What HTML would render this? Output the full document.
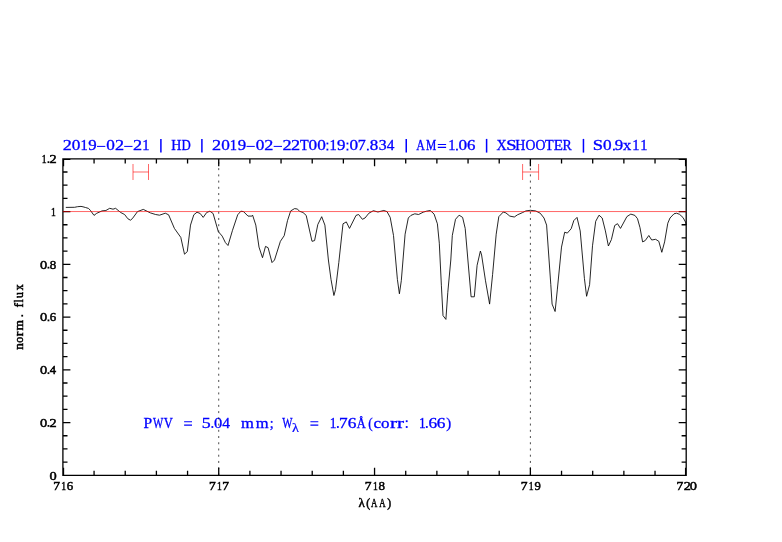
<!DOCTYPE html>
<html><head><meta charset="utf-8"><style>
html,body{margin:0;padding:0;background:#fff;width:782px;height:542px;overflow:hidden}
svg{display:block;will-change:transform}
</style></head><body>
<svg width="782" height="542" viewBox="0 0 782 542">
<rect width="782" height="542" fill="#fff"/>
<g font-family="Liberation Serif">
<text transform="translate(62.65 150.3) scale(1.339 1.000)" font-size="13.6" fill="#0000ff" stroke="#0000ff" stroke-width="0.3">2</text>
<text transform="translate(71.84 150.3) scale(1.266 1.000)" font-size="13.6" fill="#0000ff" stroke="#0000ff" stroke-width="0.3">0</text>
<text transform="translate(80.58 150.3) scale(1.065 1.000)" font-size="13.6" fill="#0000ff" stroke="#0000ff" stroke-width="0.3">1</text>
<text transform="translate(88.31 150.3) scale(1.241 1.000)" font-size="13.6" fill="#0000ff" stroke="#0000ff" stroke-width="0.3">9</text>
<path d="M97 146.4h8.3" stroke="#0000ff" stroke-width="1.0"/>
<text transform="translate(106.24 150.3) scale(1.266 1.000)" font-size="13.6" fill="#0000ff" stroke="#0000ff" stroke-width="0.3">0</text>
<text transform="translate(114.9 150.3) scale(1.339 1.000)" font-size="13.6" fill="#0000ff" stroke="#0000ff" stroke-width="0.3">2</text>
<path d="M124.2 146.4h8.3" stroke="#0000ff" stroke-width="1.0"/>
<text transform="translate(133 150.3) scale(1.339 1.000)" font-size="13.6" fill="#0000ff" stroke="#0000ff" stroke-width="0.3">2</text>
<text transform="translate(142.18 150.3) scale(1.065 1.000)" font-size="13.6" fill="#0000ff" stroke="#0000ff" stroke-width="0.3">1</text>
<path d="M160.9 138.9V152.6" stroke="#0000ff" stroke-width="1.5"/>
<text transform="translate(171.25 150.3) scale(1.030 1.070)" font-size="13.6" fill="#0000ff" stroke="#0000ff" stroke-width="0.3">H</text>
<text transform="translate(181.48 150.3) scale(0.945 1.070)" font-size="13.6" fill="#0000ff" stroke="#0000ff" stroke-width="0.3">D</text>
<path d="M201.9 138.9V152.6" stroke="#0000ff" stroke-width="1.5"/>
<text transform="translate(212.1 150.3) scale(1.339 1.000)" font-size="13.6" fill="#0000ff" stroke="#0000ff" stroke-width="0.3">2</text>
<text transform="translate(221.24 150.3) scale(1.266 1.000)" font-size="13.6" fill="#0000ff" stroke="#0000ff" stroke-width="0.3">0</text>
<text transform="translate(229.78 150.3) scale(1.065 1.000)" font-size="13.6" fill="#0000ff" stroke="#0000ff" stroke-width="0.3">1</text>
<text transform="translate(237.66 150.3) scale(1.241 1.000)" font-size="13.6" fill="#0000ff" stroke="#0000ff" stroke-width="0.3">9</text>
<path d="M246.5 146.4h8.3" stroke="#0000ff" stroke-width="1.0"/>
<text transform="translate(255.69 150.3) scale(1.266 1.000)" font-size="13.6" fill="#0000ff" stroke="#0000ff" stroke-width="0.3">0</text>
<text transform="translate(264.3 150.3) scale(1.339 1.000)" font-size="13.6" fill="#0000ff" stroke="#0000ff" stroke-width="0.3">2</text>
<path d="M273.7 146.4h8.3" stroke="#0000ff" stroke-width="1.0"/>
<text transform="translate(282.6 150.3) scale(1.339 1.000)" font-size="13.6" fill="#0000ff" stroke="#0000ff" stroke-width="0.3">2</text>
<text transform="translate(291.1 150.3) scale(1.339 1.000)" font-size="13.6" fill="#0000ff" stroke="#0000ff" stroke-width="0.3">2</text>
<text transform="translate(299.99 150.3) scale(1.046 1.070)" font-size="13.6" fill="#0000ff" stroke="#0000ff" stroke-width="0.3">T</text>
<text transform="translate(308.54 150.3) scale(1.266 1.000)" font-size="13.6" fill="#0000ff" stroke="#0000ff" stroke-width="0.3">0</text>
<text transform="translate(317.24 150.3) scale(1.266 1.000)" font-size="13.6" fill="#0000ff" stroke="#0000ff" stroke-width="0.3">0</text>
<rect x="326.5" y="148.7" width="1.8" height="1.8" fill="#0000ff"/><rect x="326.5" y="142.6" width="1.8" height="1.8" fill="#0000ff"/>
<text transform="translate(329.58 150.3) scale(1.065 1.000)" font-size="13.6" fill="#0000ff" stroke="#0000ff" stroke-width="0.3">1</text>
<text transform="translate(337.06 150.3) scale(1.241 1.000)" font-size="13.6" fill="#0000ff" stroke="#0000ff" stroke-width="0.3">9</text>
<rect x="346.55" y="148.7" width="1.8" height="1.8" fill="#0000ff"/><rect x="346.55" y="142.6" width="1.8" height="1.8" fill="#0000ff"/>
<text transform="translate(349.39 150.3) scale(1.266 1.000)" font-size="13.6" fill="#0000ff" stroke="#0000ff" stroke-width="0.3">0</text>
<text transform="translate(357.69 150.3) scale(1.179 1.000)" font-size="13.6" fill="#0000ff" stroke="#0000ff" stroke-width="0.3">7</text>
<rect x="366.95" y="148.7" width="1.8" height="1.8" fill="#0000ff"/>
<text transform="translate(369.8 150.3) scale(1.249 1.000)" font-size="13.6" fill="#0000ff" stroke="#0000ff" stroke-width="0.3">8</text>
<text transform="translate(378.8 150.3) scale(1.157 1.000)" font-size="13.6" fill="#0000ff" stroke="#0000ff" stroke-width="0.3">3</text>
<text transform="translate(386.85 150.3) scale(1.123 1.000)" font-size="13.6" fill="#0000ff" stroke="#0000ff" stroke-width="0.3">4</text>
<path d="M406.25 138.9V152.6" stroke="#0000ff" stroke-width="1.5"/>
<text transform="translate(416.23 150.3) scale(0.876 1.070)" font-size="13.6" fill="#0000ff" stroke="#0000ff" stroke-width="0.3">A</text>
<text transform="translate(426.02 150.3) scale(0.849 1.070)" font-size="13.6" fill="#0000ff" stroke="#0000ff" stroke-width="0.3">M</text>
<path d="M437.8 144.5h8.3M437.8 147.45h8.3" stroke="#0000ff" stroke-width="1.2"/>
<text transform="translate(448.33 150.3) scale(1.065 1.000)" font-size="13.6" fill="#0000ff" stroke="#0000ff" stroke-width="0.3">1</text>
<rect x="456.05" y="148.7" width="1.8" height="1.8" fill="#0000ff"/>
<text transform="translate(458.59 150.3) scale(1.266 1.000)" font-size="13.6" fill="#0000ff" stroke="#0000ff" stroke-width="0.3">0</text>
<text transform="translate(466.93 150.3) scale(1.239 1.000)" font-size="13.6" fill="#0000ff" stroke="#0000ff" stroke-width="0.3">6</text>
<path d="M486.6 138.9V152.6" stroke="#0000ff" stroke-width="1.5"/>
<text transform="translate(496.44 150.3) scale(1.035 1.070)" font-size="13.6" fill="#0000ff" stroke="#0000ff" stroke-width="0.3">X</text>
<text transform="translate(506.36 150.3) scale(1.360 1.070)" font-size="13.6" fill="#0000ff" stroke="#0000ff" stroke-width="0.3">S</text>
<text transform="translate(515.15 150.3) scale(1.030 1.070)" font-size="13.6" fill="#0000ff" stroke="#0000ff" stroke-width="0.3">H</text>
<text transform="translate(525.39 150.3) scale(1.011 1.070)" font-size="13.6" fill="#0000ff" stroke="#0000ff" stroke-width="0.3">O</text>
<text transform="translate(535.39 150.3) scale(1.011 1.070)" font-size="13.6" fill="#0000ff" stroke="#0000ff" stroke-width="0.3">O</text>
<text transform="translate(545.09 150.3) scale(1.046 1.070)" font-size="13.6" fill="#0000ff" stroke="#0000ff" stroke-width="0.3">T</text>
<text transform="translate(553.82 150.3) scale(1.105 1.070)" font-size="13.6" fill="#0000ff" stroke="#0000ff" stroke-width="0.3">E</text>
<text transform="translate(562.55 150.3) scale(1.016 1.070)" font-size="13.6" fill="#0000ff" stroke="#0000ff" stroke-width="0.3">R</text>
<path d="M583.45 138.9V152.6" stroke="#0000ff" stroke-width="1.5"/>
<text transform="translate(592.81 150.3) scale(1.360 1.070)" font-size="13.6" fill="#0000ff" stroke="#0000ff" stroke-width="0.3">S</text>
<text transform="translate(602.89 150.3) scale(1.266 1.000)" font-size="13.6" fill="#0000ff" stroke="#0000ff" stroke-width="0.3">0</text>
<rect x="613" y="148.7" width="1.8" height="1.8" fill="#0000ff"/>
<text transform="translate(614.86 150.3) scale(1.241 1.000)" font-size="13.6" fill="#0000ff" stroke="#0000ff" stroke-width="0.3">9</text>
<text transform="translate(623.11 150.3) scale(1.213 1.000)" font-size="13.6" fill="#0000ff" stroke="#0000ff" stroke-width="0.3">x</text>
<text transform="translate(632.28 150.3) scale(1.065 1.000)" font-size="13.6" fill="#0000ff" stroke="#0000ff" stroke-width="0.3">1</text>
<text transform="translate(640.23 150.3) scale(1.065 1.000)" font-size="13.6" fill="#0000ff" stroke="#0000ff" stroke-width="0.3">1</text>
<text transform="translate(143.4 428) scale(1.114 1.070)" font-size="14.0" fill="#0000ff" stroke="#0000ff" stroke-width="0.3">P</text>
<text transform="translate(152.99 428) scale(0.774 1.070)" font-size="14.0" fill="#0000ff" stroke="#0000ff" stroke-width="0.3">W</text>
<text transform="translate(163.71 428) scale(0.898 1.070)" font-size="14.0" fill="#0000ff" stroke="#0000ff" stroke-width="0.3">V</text>
<path d="M184.1 421.75h7.9M184.1 425.1h7.9" stroke="#0000ff" stroke-width="1.2"/>
<text transform="translate(201.71 428) scale(1.277 1.000)" font-size="14.0" fill="#0000ff" stroke="#0000ff" stroke-width="0.3">5</text>
<rect x="211.45" y="426.1" width="1.8" height="1.8" fill="#0000ff"/>
<text transform="translate(214.02 428) scale(1.180 1.000)" font-size="14.0" fill="#0000ff" stroke="#0000ff" stroke-width="0.3">0</text>
<text transform="translate(222.35 428) scale(1.106 1.000)" font-size="14.0" fill="#0000ff" stroke="#0000ff" stroke-width="0.3">4</text>
<text transform="translate(241 428) scale(1.185 1.000)" font-size="14.0" fill="#0000ff" stroke="#0000ff" stroke-width="0.3">m</text>
<text transform="translate(255.8 428) scale(1.185 1.000)" font-size="14.0" fill="#0000ff" stroke="#0000ff" stroke-width="0.3">m</text>
<text transform="translate(269.83 428) scale(1.000 1.000)" font-size="14.0" fill="#0000ff" stroke="#0000ff" stroke-width="0.3">;</text>
<text transform="translate(282.34 428) scale(0.774 1.070)" font-size="14.0" fill="#0000ff" stroke="#0000ff" stroke-width="0.3">W</text>
<path d="M310.4 421.75h7.9M310.4 425.1h7.9" stroke="#0000ff" stroke-width="1.2"/>
<text transform="translate(329.68 428) scale(0.954 1.000)" font-size="14.0" fill="#0000ff" stroke="#0000ff" stroke-width="0.3">1</text>
<rect x="336.95" y="426.1" width="1.8" height="1.8" fill="#0000ff"/>
<text transform="translate(339.01 428) scale(1.234 1.000)" font-size="14.0" fill="#0000ff" stroke="#0000ff" stroke-width="0.3">7</text>
<text transform="translate(347.71 428) scale(1.237 1.000)" font-size="14.0" fill="#0000ff" stroke="#0000ff" stroke-width="0.3">6</text>
<text transform="translate(356.73 428) scale(0.891 1.070)" font-size="14.0" fill="#0000ff" stroke="#0000ff" stroke-width="0.3">Å</text>
<text transform="translate(368.27 428) scale(0.946 1.000)" font-size="14.0" fill="#0000ff" stroke="#0000ff" stroke-width="0.3">(</text>
<text transform="translate(373.6 428) scale(1.219 1.000)" font-size="14.0" fill="#0000ff" stroke="#0000ff" stroke-width="0.3">c</text>
<text transform="translate(381.1 428) scale(1.213 1.000)" font-size="14.0" fill="#0000ff" stroke="#0000ff" stroke-width="0.3">o</text>
<text transform="translate(390.03 428) scale(1.503 1.000)" font-size="14.0" fill="#0000ff" stroke="#0000ff" stroke-width="0.3">r</text>
<text transform="translate(397.08 428) scale(1.503 1.000)" font-size="14.0" fill="#0000ff" stroke="#0000ff" stroke-width="0.3">r</text>
<rect x="405.8" y="426.1" width="1.8" height="1.8" fill="#0000ff"/><rect x="405.8" y="420.3" width="1.8" height="1.8" fill="#0000ff"/>
<text transform="translate(418.93 428) scale(0.954 1.000)" font-size="14.0" fill="#0000ff" stroke="#0000ff" stroke-width="0.3">1</text>
<rect x="425.9" y="426.1" width="1.8" height="1.8" fill="#0000ff"/>
<text transform="translate(428.41 428) scale(1.237 1.000)" font-size="14.0" fill="#0000ff" stroke="#0000ff" stroke-width="0.3">6</text>
<text transform="translate(436.71 428) scale(1.237 1.000)" font-size="14.0" fill="#0000ff" stroke="#0000ff" stroke-width="0.3">6</text>
<text transform="translate(446.27 428) scale(1.057 1.000)" font-size="14.0" fill="#0000ff" stroke="#0000ff" stroke-width="0.3">)</text>
<text transform="translate(292.12 431.6) scale(1.121 1.000)" font-size="12.8" fill="#0000ff" stroke="#0000ff" stroke-width="0.2">λ</text>
</g>
<g font-family="Liberation Serif">
<text transform="translate(49.5 479.55) scale(1.142 1.000)" font-size="12.6" fill="#000" stroke="#000" stroke-width="0.5">0</text>
<text transform="translate(39.9 426.8) scale(1.142 1.000)" font-size="12.6" fill="#000" stroke="#000" stroke-width="0.5">0</text>
<rect x="47.55" y="425" width="1.8" height="1.8" fill="#000"/>
<text transform="translate(49.53 426.8) scale(1.128 1.000)" font-size="12.6" fill="#000" stroke="#000" stroke-width="0.5">2</text>
<text transform="translate(39.9 374.05) scale(1.142 1.000)" font-size="12.6" fill="#000" stroke="#000" stroke-width="0.5">0</text>
<rect x="47.55" y="372.25" width="1.8" height="1.8" fill="#000"/>
<text transform="translate(49.8 374.05) scale(1.007 1.000)" font-size="12.6" fill="#000" stroke="#000" stroke-width="0.5">4</text>
<text transform="translate(39.9 321.3) scale(1.142 1.000)" font-size="12.6" fill="#000" stroke="#000" stroke-width="0.5">0</text>
<rect x="47.55" y="319.5" width="1.8" height="1.8" fill="#000"/>
<text transform="translate(49.7 321.3) scale(1.022 1.000)" font-size="12.6" fill="#000" stroke="#000" stroke-width="0.5">6</text>
<text transform="translate(39.9 268.55) scale(1.142 1.000)" font-size="12.6" fill="#000" stroke="#000" stroke-width="0.5">0</text>
<rect x="47.55" y="266.75" width="1.8" height="1.8" fill="#000"/>
<text transform="translate(49.76 268.55) scale(1.030 1.000)" font-size="12.6" fill="#000" stroke="#000" stroke-width="0.5">8</text>
<text transform="translate(51.05 215.8) scale(0.766 1.000)" font-size="12.6" fill="#000" stroke="#000" stroke-width="0.5">1</text>
<text transform="translate(41.65 163.05) scale(0.766 1.000)" font-size="12.6" fill="#000" stroke="#000" stroke-width="0.5">1</text>
<rect x="47.55" y="161.25" width="1.8" height="1.8" fill="#000"/>
<text transform="translate(49.53 163.05) scale(1.128 1.000)" font-size="12.6" fill="#000" stroke="#000" stroke-width="0.5">2</text>
<text transform="translate(53.16 490.3) scale(1.077 1.000)" font-size="12.6" fill="#000" stroke="#000" stroke-width="0.5">7</text>
<text transform="translate(61.25 490.3) scale(0.766 1.000)" font-size="12.6" fill="#000" stroke="#000" stroke-width="0.5">1</text>
<text transform="translate(66.7 490.3) scale(1.022 1.000)" font-size="12.6" fill="#000" stroke="#000" stroke-width="0.5">6</text>
<text transform="translate(208.98 490.3) scale(1.077 1.000)" font-size="12.6" fill="#000" stroke="#000" stroke-width="0.5">7</text>
<text transform="translate(217.08 490.3) scale(0.766 1.000)" font-size="12.6" fill="#000" stroke="#000" stroke-width="0.5">1</text>
<text transform="translate(222.18 490.3) scale(1.077 1.000)" font-size="12.6" fill="#000" stroke="#000" stroke-width="0.5">7</text>
<text transform="translate(364.81 490.3) scale(1.077 1.000)" font-size="12.6" fill="#000" stroke="#000" stroke-width="0.5">7</text>
<text transform="translate(372.9 490.3) scale(0.766 1.000)" font-size="12.6" fill="#000" stroke="#000" stroke-width="0.5">1</text>
<text transform="translate(378.41 490.3) scale(1.030 1.000)" font-size="12.6" fill="#000" stroke="#000" stroke-width="0.5">8</text>
<text transform="translate(520.63 490.3) scale(1.077 1.000)" font-size="12.6" fill="#000" stroke="#000" stroke-width="0.5">7</text>
<text transform="translate(528.73 490.3) scale(0.766 1.000)" font-size="12.6" fill="#000" stroke="#000" stroke-width="0.5">1</text>
<text transform="translate(534.38 490.3) scale(1.000 1.000)" font-size="12.6" fill="#000" stroke="#000" stroke-width="0.5">9</text>
<text transform="translate(676.46 490.3) scale(1.077 1.000)" font-size="12.6" fill="#000" stroke="#000" stroke-width="0.5">7</text>
<text transform="translate(683.63 490.3) scale(1.128 1.000)" font-size="12.6" fill="#000" stroke="#000" stroke-width="0.5">2</text>
<text transform="translate(689.7 490.3) scale(1.142 1.000)" font-size="12.6" fill="#000" stroke="#000" stroke-width="0.5">0</text>
<text transform="translate(358.51 506.9) scale(1.033 1.000)" font-size="12.6" fill="#000" stroke="#000" stroke-width="0.5">λ</text>
<text transform="translate(366.34 506.9) scale(0.927 1.000)" font-size="12.6" fill="#000" stroke="#000" stroke-width="0.5">(</text>
<text transform="translate(371.06 506.9) scale(0.698 1.000)" font-size="12.6" fill="#000" stroke="#000" stroke-width="0.5">A</text>
<text transform="translate(379.16 506.9) scale(0.698 1.000)" font-size="12.6" fill="#000" stroke="#000" stroke-width="0.5">A</text>
<text transform="translate(387.17 506.9) scale(0.927 1.000)" font-size="12.6" fill="#000" stroke="#000" stroke-width="0.5">)</text>
<g transform="translate(23.1 0) rotate(-90)">
<text transform="translate(-349.65 0) scale(1.048 1.000)" font-size="12.6" fill="#000" stroke="#000" stroke-width="0.5">n</text>
<text transform="translate(-342.71 0) scale(0.955 1.000)" font-size="12.6" fill="#000" stroke="#000" stroke-width="0.5">o</text>
<text transform="translate(-336.23 0) scale(1.122 1.000)" font-size="12.6" fill="#000" stroke="#000" stroke-width="0.5">r</text>
<text transform="translate(-330.53 0) scale(1.060 1.000)" font-size="12.6" fill="#000" stroke="#000" stroke-width="0.5">m</text>
<rect x="-316.6" y="-1.8" width="1.8" height="1.8" fill="#000"/>
<text transform="translate(-307.41 0) scale(1.050 1.000)" font-size="12.6" fill="#000" stroke="#000" stroke-width="0.5">f</text>
<text transform="translate(-302.48 0) scale(0.901 1.000)" font-size="12.6" fill="#000" stroke="#000" stroke-width="0.5">l</text>
<text transform="translate(-297.9 0) scale(0.929 1.000)" font-size="12.6" fill="#000" stroke="#000" stroke-width="0.5">u</text>
<text transform="translate(-290.35 0) scale(0.944 1.000)" font-size="12.6" fill="#000" stroke="#000" stroke-width="0.5">x</text>
</g>
</g>
<path d="M62.9 158.8H686.2V475.3H62.9ZM63.5 475.3v-7.5M63.5 158.8v7.5M94.07 475.3v-4.6M94.07 158.8v4.6M125.23 475.3v-4.6M125.23 158.8v4.6M156.4 475.3v-4.6M156.4 158.8v4.6M187.56 475.3v-4.6M187.56 158.8v4.6M218.73 475.3v-7.5M218.73 158.8v7.5M249.89 475.3v-4.6M249.89 158.8v4.6M281.05 475.3v-4.6M281.05 158.8v4.6M312.22 475.3v-4.6M312.22 158.8v4.6M343.38 475.3v-4.6M343.38 158.8v4.6M374.55 475.3v-7.5M374.55 158.8v7.5M405.72 475.3v-4.6M405.72 158.8v4.6M436.88 475.3v-4.6M436.88 158.8v4.6M468.05 475.3v-4.6M468.05 158.8v4.6M499.21 475.3v-4.6M499.21 158.8v4.6M530.38 475.3v-7.5M530.38 158.8v7.5M561.54 475.3v-4.6M561.54 158.8v4.6M592.7 475.3v-4.6M592.7 158.8v4.6M623.87 475.3v-4.6M623.87 158.8v4.6M655.03 475.3v-4.6M655.03 158.8v4.6M685.6 475.3v-7.5M685.6 158.8v7.5M62.9 475.3h7.5M686.2 475.3h-7.5M62.9 462.11h4.6M686.2 462.11h-4.6M62.9 448.93h4.6M686.2 448.93h-4.6M62.9 435.74h4.6M686.2 435.74h-4.6M62.9 422.55h7.5M686.2 422.55h-7.5M62.9 409.36h4.6M686.2 409.36h-4.6M62.9 396.18h4.6M686.2 396.18h-4.6M62.9 382.99h4.6M686.2 382.99h-4.6M62.9 369.8h7.5M686.2 369.8h-7.5M62.9 356.61h4.6M686.2 356.61h-4.6M62.9 343.43h4.6M686.2 343.43h-4.6M62.9 330.24h4.6M686.2 330.24h-4.6M62.9 317.05h7.5M686.2 317.05h-7.5M62.9 303.86h4.6M686.2 303.86h-4.6M62.9 290.67h4.6M686.2 290.67h-4.6M62.9 277.49h4.6M686.2 277.49h-4.6M62.9 264.3h7.5M686.2 264.3h-7.5M62.9 251.11h4.6M686.2 251.11h-4.6M62.9 237.92h4.6M686.2 237.92h-4.6M62.9 224.74h4.6M686.2 224.74h-4.6M62.9 211.55h7.5M686.2 211.55h-7.5M62.9 198.36h4.6M686.2 198.36h-4.6M62.9 185.17h4.6M686.2 185.17h-4.6M62.9 171.99h4.6M686.2 171.99h-4.6M62.9 159.4h7.5M686.2 159.4h-7.5" stroke="#000" stroke-width="1.3" fill="none"/>
<polyline fill="none" stroke="#000" stroke-width="0.85" stroke-linejoin="round" points="65.8,207.4 74.6,207.3 77.5,206.7 81,206.4 83,206.8 85.5,207.5 88.5,208.4 90.5,210.5 94,215.4 96.7,213.3 102,210.9 105.9,210.5 109.7,208.3 113,209.2 115.6,208.3 120.7,212.5 124.6,214.5 127.8,218.7 130.4,220.2 132.3,218.7 137.5,211.6 143.3,209.4 150.4,212.9 155.6,214.5 159.5,215.2 165.3,213.2 168.6,214.8 174.4,228.4 180.8,237.4 184.5,254.2 187.3,251.6 190.5,225.1 193.8,214.8 197,212.2 200.2,213.5 203.2,217.4 206.7,212.5 209.9,211.2 213.1,213.5 218.3,231.6 222.2,236.1 225.4,242.6 228,245.5 232.5,230.3 237.7,214.8 240.9,211.2 243.5,211.6 248,216.1 251.9,216.1 252.6,215.2 255.8,225.1 259,247.1 262.5,257.7 265.5,246.4 268.1,247.7 272,262.6 274.5,260 280.4,241.3 284.2,235.7 287.5,220.6 290.7,210.9 294.6,208.6 297.2,209 299.7,211.3 303,212.5 306.2,215.4 312,241.3 314.6,240.6 317.8,224.5 321.7,216.7 324.9,225.1 328.4,260 331,279.4 333.9,295.5 335.5,289.7 338.8,262.6 343,223.8 346.3,221.9 349.5,228.4 356,215.4 358.6,214.5 362.4,219.3 365,218 368.9,213.2 373.4,210.7 377.9,212 383.8,210.5 387,211.6 390.2,217.4 393.5,235.5 397.4,279.4 399.4,293.8 401.3,280.7 405.1,234.2 408.3,218 410.9,215.4 414.8,213.8 418.6,214.5 423.2,212.2 426.4,211.2 430.3,210.5 434.1,214.1 437.4,223.8 439.3,243.2 441.4,285.8 443,315.6 445.9,319.4 447.8,292.3 450.8,260 452.3,235.5 455.5,219.3 459.1,215.2 462.6,217.4 465.2,228.4 467.9,260 471.1,296.8 474.3,296.8 477.1,265.3 480.4,251 481.6,255 485.5,280.8 489.6,304.1 492.6,274.4 496.2,234.2 498.8,216.7 503.3,212 505.9,212.9 509.8,216.1 514.3,217 517.5,214.8 522.7,212.5 525.9,210.9 530.4,210.3 535.6,210.9 540.2,213.2 544,218 546.6,225.1 550.8,284.7 552.1,304.1 555.1,311.5 557.3,289.9 561.5,247.1 564.7,232.2 567.3,233.1 571.2,228.7 573.8,220.6 577,217.4 580.2,230.9 584.4,278.3 586.6,296.3 589.6,284.7 592.5,245.8 595.7,221.3 599,215.2 602.2,218 605.4,230.9 608.4,246 611.4,239.6 614.7,225.5 617.5,223.7 620.5,228.4 626.9,216.6 630.8,214.1 634.9,215.4 637.5,218.7 640,227.7 642.6,241.9 645.2,240.6 648.8,235.5 651.7,240 655.6,239.3 658.8,241.3 661.8,252.3 664.6,241.9 667.8,223.2 670,218 674,213.8 676.5,213.2 679.5,214.3 683,217.5 685.5,222 686.2,225"/>
<line x1="62.9" y1="211.55" x2="686.2" y2="211.55" stroke="#ff0000" stroke-width="1" opacity="0.6"/>
<line x1="218.73" y1="158.8" x2="218.73" y2="475.3" stroke="#000" stroke-width="1" stroke-dasharray="2 4.23" stroke-dashoffset="3.13" opacity="0.7"/>
<line x1="530.38" y1="158.8" x2="530.38" y2="475.3" stroke="#000" stroke-width="1" stroke-dasharray="2 4.23" stroke-dashoffset="3.13" opacity="0.7"/>
<path d="M133 163.99V179.99M148.5 163.99V179.99M133 171.99H148.5" stroke="#ff0000" stroke-width="1" fill="none" opacity="0.6"/>
<path d="M522.6 163.99V179.99M538.6 163.99V179.99M522.6 171.99H538.6" stroke="#ff0000" stroke-width="1" fill="none" opacity="0.6"/>
</svg>
</body></html>
